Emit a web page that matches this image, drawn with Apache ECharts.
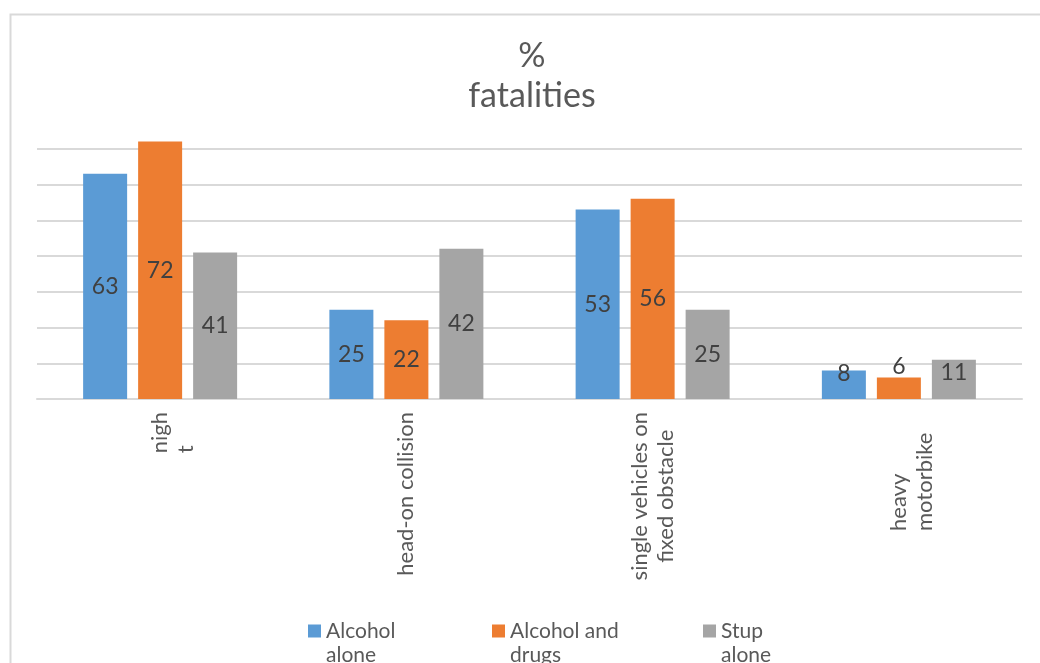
<!DOCTYPE html>
<html>
<head>
<meta charset="utf-8">
<script src="https://cdn.jsdelivr.net/npm/echarts@6/dist/echarts.min.js"></script>
<style>
html,body{margin:0;padding:0;background:#fff;}
#chart{width:1040px;height:663px;}
</style>
</head>
<body>
<div id="chart"></div>
<script>
const titleText = '%\nfatalities';
const categories = ['nigh\nt', 'head-on collision', 'single vehicles on\nfixed obstacle', 'heavy\nmotorbike'];
const seriesNames = ['Alcohol alone', 'Alcohol and drugs', 'Stup alone'];
const alcoholAlone = [63, 25, 53, 8];
const alcoholAndDrugs = [72, 22, 56, 6];
const stupAlone = [41, 42, 25, 11];
const yTicks = [0, 10, 20, 30, 40, 50, 60, 70, 80];

const FONT = 'Lato, "Open Sans", sans-serif';
const colors = ['#5B9BD5', '#ED7D31', '#A5A5A5'];
const values = [alcoholAlone, alcoholAndDrugs, stupAlone];

// label placement for the short bars of the last category (styling only)
const smallLabelPos = [['50%', 3], ['50%', -11], ['50%', 13]];
// per-category label line alignment style keys
const catStyle = ['L', 'C', 'C', 'H'];
const catPad = [[26, 0, 0, 0], [0, 0, 0, 0], [0, 0, 0, 0], [26, 0, 0, 0]];

const chart = echarts.init(document.getElementById('chart'), null, {renderer: 'canvas'});

const series = seriesNames.map((name, s) => ({
  name: name,
  type: 'bar',
  barWidth: 44,
  barGap: '25%',
  itemStyle: {color: colors[s]},
  label: {
    show: true,
    position: 'inside',
    fontFamily: FONT,
    fontSize: 23,
    color: '#404040'
  },
  data: values[s].map((v, i) => i === categories.length - 1
    ? {value: v, label: {position: smallLabelPos[s], align: 'center', verticalAlign: 'middle'}}
    : v)
}));

const option = {
  animation: false,
  backgroundColor: '#ffffff',
  graphic: [{
    type: 'rect',
    left: 8, top: 12,
    shape: {width: 1100, height: 700},
    style: {fill: 'none', stroke: '#d9d9d9', lineWidth: 2},
    silent: true
  }],
  title: {
    text: titleText,
    left: 527,
    top: 31,
    textAlign: 'center',
    textStyle: {
      fontFamily: FONT,
      fontSize: 34,
      fontWeight: 'normal',
      color: '#595959',
      lineHeight: 40
    }
  },
  legend: {
    left: 303,
    top: 590,
    padding: 5,
    itemGap: 0,
    itemWidth: 13,
    itemHeight: 13,
    icon: 'rect',
    formatter: (name) => {
      const k = name.lastIndexOf(' ');
      return '\n' + name.slice(0, k) + '\n' + name.slice(k + 1);
    },
    textStyle: {
      fontFamily: FONT,
      fontSize: 21,
      color: '#595959',
      lineHeight: 24
    },
    data: [
      {name: seriesNames[0], textStyle: {width: 166}},
      {name: seriesNames[1], textStyle: {width: 193}},
      {name: seriesNames[2], textStyle: {width: 90}}
    ]
  },
  grid: {left: 37, right: 18, top: 113, bottom: 264, containLabel: false},
  xAxis: {
    type: 'category',
    data: categories.map((c, i) => ({value: c, textStyle: {padding: catPad[i]}})),
    axisLine: {show: true, lineStyle: {color: '#d9d9d9', width: 2}},
    axisTick: {show: false},
    splitLine: {show: false},
    axisLabel: {
      interval: 0,
      rotate: 90,
      margin: 13,
      fontFamily: FONT,
      fontSize: 22,
      color: '#595959',
      lineHeight: 26,
      formatter: (value, idx) => value.split('\n').map(l => '{' + catStyle[idx] + '|' + l + '}').join('\n'),
      rich: {
        L: {align: 'left', fontFamily: FONT, fontSize: 22, color: '#595959', lineHeight: 26},
        C: {align: 'center', fontFamily: FONT, fontSize: 22, color: '#595959', lineHeight: 26},
        H: {align: 'left', width: 119, fontFamily: FONT, fontSize: 22, color: '#595959', lineHeight: 26}
      }
    }
  },
  yAxis: {
    type: 'value',
    min: yTicks[0],
    max: yTicks[yTicks.length - 1],
    interval: yTicks[1] - yTicks[0],
    axisLabel: {show: false},
    axisLine: {show: false},
    axisTick: {show: false},
    splitLine: {
      show: true,
      showMaxLine: false,
      lineStyle: {
        color: yTicks.map((t, i) => i === yTicks.length - 1 ? 'rgba(0,0,0,0)' : '#d9d9d9'),
        width: 2
      }
    }
  },
  series: series
};

chart.setOption(option);
</script>
</body>
</html>
